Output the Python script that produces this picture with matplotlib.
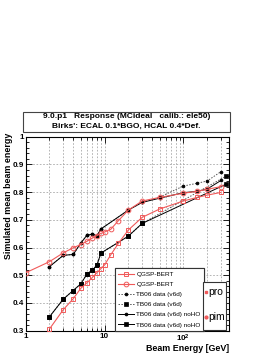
import matplotlib
matplotlib.use("Agg")
import matplotlib.pyplot as plt
from matplotlib.lines import Line2D
from matplotlib.patches import Rectangle
from matplotlib.ticker import FixedLocator, FixedFormatter, MultipleLocator, NullFormatter

plt.rcParams['font.family'] = ['Liberation Sans', 'DejaVu Sans']
plt.rcParams['mathtext.fontset'] = 'custom'
plt.rcParams['mathtext.bf'] = 'Liberation Sans:bold'
plt.rcParams['mathtext.rm'] = 'Liberation Sans'

# ---------------- data ----------------
e_pim_mc = [1, 2, 3, 4, 5, 6, 7, 8, 9, 10, 12, 15, 20, 30, 50, 100, 150, 200, 300]
r_pim_mc = [0.509, 0.549, 0.581, 0.599, 0.611, 0.623, 0.634, 0.643, 0.651, 0.656,
            0.666, 0.697, 0.735, 0.768, 0.781, 0.796, 0.803, 0.810, 0.820]

e_pro_mc = [2, 3, 4, 5, 6, 7, 8, 9, 10, 12, 15, 20, 30, 50, 100, 150, 200, 300]
r_pro_mc = [0.306, 0.376, 0.415, 0.453, 0.473, 0.492, 0.509, 0.524, 0.537, 0.574,
            0.615, 0.663, 0.709, 0.739, 0.768, 0.781, 0.789, 0.799]

e_pim_data = [2, 3, 4, 5, 6, 7, 8, 9, 20, 30, 50, 100, 150, 200, 300]
r_pim_v6d = [0.531, 0.572, 0.575, 0.616, 0.645, 0.648, 0.643, 0.667, 0.735, 0.763,
             0.782, 0.822, 0.832, 0.840, 0.874]
r_pim_noho = [0.531, 0.572, 0.575, 0.616, 0.645, 0.648, 0.643, 0.667, 0.735, 0.763,
              0.778, 0.798, 0.803, 0.811, 0.842]

e_pro_data = [2, 3, 4, 5, 6, 7, 8, 9, 20, 30, 350]
r_pro_v6d = [0.350, 0.414, 0.445, 0.469, 0.505, 0.519, 0.536, 0.580, 0.641, 0.687, 0.858]
r_pro_noho = [0.350, 0.414, 0.445, 0.469, 0.505, 0.519, 0.536, 0.580, 0.641, 0.687, 0.829]

legend_labels = ["QGSP-BERT", "QGSP-BERT", "TB06 data (v6d)", "TB06 data (v6d)",
                 "TB06 data (v6d) noHO", "TB06 data (v6d) noHO"]
particle_labels = ["pro", "pim"]
title_lines = ["9.0.p1   Response (MCideal   calib.: ele50)",
               "Birks': ECAL 0.1*BGO, HCAL 0.4*Def."]
x_major = [1, 10, 100]
x_major_labels = ["1", "10", r"$\mathbf{10^{2}}$"]
y_major = [0.3, 0.4, 0.5, 0.6, 0.7, 0.8, 0.9, 1.0]
y_major_labels = ["0.3", "0.4", "0.5", "0.6", "0.7", "0.8", "0.9", "1"]

# ---------------- figure ----------------
W, H = 274, 355
fig = plt.figure(figsize=(W / 100, H / 100), dpi=100)
fig.patch.set_facecolor("white")

def fx(px):
    return px / W

def fy(py):
    return 1 - py / H

ax = fig.add_axes([fx(25.7), fy(330.7), fx(228.7) - fx(25.7), fy(136.7) - fy(330.7)])
ax.set_xscale("log")
ax.set_xlim(1, 376)
ax.set_ylim(0.3, 1.0)

red = "#f05a5a"
dotc = "#555555"

l1, = ax.plot(e_pro_mc, r_pro_mc, color=red, lw=0.8, marker="s", ms=3.2,
              mfc="none", mec=red, mew=0.7, zorder=5)
l2, = ax.plot(e_pim_mc, r_pim_mc, color=red, lw=0.8, marker="o", ms=3.4,
              mfc="none", mec=red, mew=0.7, zorder=5)
l3, = ax.plot(e_pim_data, r_pim_v6d, color=dotc, lw=0.7, ls=(0, (1.5, 1.5)),
              marker="o", ms=2.1, mfc="black", mec="black", mew=0.5, zorder=4)
l4, = ax.plot(e_pro_data, r_pro_v6d, color=dotc, lw=0.7, ls=(0, (1.5, 1.5)),
              marker="s", ms=2.2, mfc="black", mec="black", mew=0.5, zorder=4, clip_on=False)
l5, = ax.plot(e_pim_data, r_pim_noho, color="black", lw=0.7,
              marker="o", ms=2.1, mfc="black", mec="black", mew=0.5, zorder=4)
l6, = ax.plot(e_pro_data, r_pro_noho, color="black", lw=0.7,
              marker="s", ms=2.2, mfc="black", mec="black", mew=0.5, zorder=4, clip_on=False)

# axes styling
ax.xaxis.set_major_locator(FixedLocator(x_major))
ax.xaxis.set_major_formatter(FixedFormatter(x_major_labels))
ax.xaxis.set_minor_locator(FixedLocator([m * d for d in (1, 10, 100) for m in range(2, 10)]))
ax.xaxis.set_minor_formatter(NullFormatter())
ax.yaxis.set_major_locator(FixedLocator(y_major))
ax.yaxis.set_major_formatter(FixedFormatter(y_major_labels))
ax.yaxis.set_minor_locator(MultipleLocator(0.02))

ax.tick_params(which="both", direction="in", top=True, right=True, colors="black",
               labelsize=5.8, width=0.6)
ax.tick_params(which="major", length=4)
ax.tick_params(which="minor", length=2)
ax.tick_params(axis="x", pad=1.5)
ax.tick_params(axis="y", pad=1)
for lab in ax.get_xticklabels() + ax.get_yticklabels():
    lab.set_fontweight("bold")

ax.grid(True, which="major", axis="both", color="#a8a8a8", lw=0.6, ls=(0, (2, 2)))
ax.grid(True, which="minor", axis="x", color="#a8a8a8", lw=0.6, ls=(0, (2, 2)))
ax.set_axisbelow(True)
for s in ax.spines.values():
    s.set_linewidth(0.8)
    s.set_color("black")

# axis titles
fig.text(fx(228.7), fy(348.8), "Beam Energy [GeV]", ha="right", va="center",
         fontsize=6.4, fontweight="bold")
fig.text(fx(8.5), fy(133), "Simulated mean beam energy", rotation=90,
         ha="center", va="top", fontsize=6.4, fontweight="bold")

# title box
fig.add_artist(Rectangle((fx(22.7), fy(132.3)), fx(230) - fx(22.7), fy(111.7) - fy(132.3),
                         transform=fig.transFigure, facecolor="white",
                         edgecolor="#444444", lw=0.8))
fig.text(fx(126.3), fy(116.3), title_lines[0], ha="center", va="center",
         fontsize=6.0, fontweight="bold")
fig.text(fx(126.3), fy(126.8), title_lines[1], ha="center", va="center",
         fontsize=6.0, fontweight="bold")

# legend 1
leg = ax.legend([l1, l2, l3, l4, l5, l6], legend_labels, loc="lower left",
                bbox_to_anchor=(fx(115), fy(330.7)), bbox_transform=fig.transFigure,
                borderaxespad=0, fontsize=4.6, handlelength=2.4, handletextpad=0.45,
                labelspacing=0.72, borderpad=0.5, frameon=True, fancybox=False,
                framealpha=1, edgecolor="#333333")
leg.get_frame().set_linewidth(0.8)
ax.add_artist(leg)

# legend 2 (particle key)
fig.add_artist(Rectangle((fx(203), fy(329.5)), fx(225.5) - fx(203), fy(281.5) - fy(329.5),
                         transform=fig.transFigure, facecolor="white",
                         edgecolor="#333333", lw=0.8))
for lab, mk, py in zip(particle_labels, ["s", "o"], [292.3, 316.7]):
    fig.add_artist(Line2D([fx(206)], [fy(py)], transform=fig.transFigure, marker=mk,
                          ms=2.0, color=red, mfc=red, mec=red, ls="none"))
    fig.text(fx(208.5), fy(py), lab, ha="left", va="center", fontsize=7.4)

fig.savefig("out.png", dpi=100, facecolor="white")
